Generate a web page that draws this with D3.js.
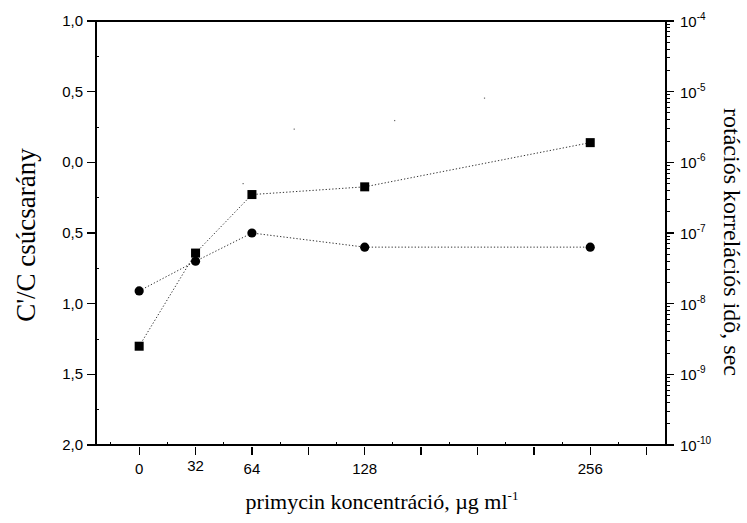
<!DOCTYPE html>
<html>
<head>
<meta charset="utf-8">
<script src="https://cdn.jsdelivr.net/npm/d3@7"></script>
<style>
  body { margin: 0; background: #fff; }
  .tick-label { font-family: 'Liberation Sans', Arial, sans-serif; font-size: 15px; fill: #000; }
  .title { font-family: 'Liberation Serif', 'Times New Roman', serif; font-size: 22px; fill: #000; }
</style>
</head>
<body>
<svg id="chart" width="747" height="523"></svg>
<script>
// concentration values (µg/ml)
const conc = [0, 32, 64, 128, 256];
// C'/C peak ratio (left axis)
const peakRatio = [-0.91, -0.70, -0.50, -0.60, -0.60];
// rotational correlation time, sec (right axis)
const corrTime = [2.5e-9, 5.2e-8, 3.5e-7, 4.5e-7, 1.9e-6];
// stray specks in the scanned figure
const speckConc = [59, 88, 145, 196];
const speckTime = [5.0e-7, 2.95e-6, 3.9e-6, 8.1e-6];

const xTickValues = [0, 32, 64, 96, 128, 160, 192, 224, 256, 288];
const xTickLabels = ['0', '32', '64', '', '128', '', '', '', '256', ''];
const leftTicks = [1, 0.5, 0, -0.5, -1, -1.5, -2];
const rightExps = [-4, -5, -6, -7, -8, -9, -10];

const svg = d3.select('svg#chart');
const pLeft = 96, pRight = 666, pTop = 21, pBottom = 445;

const x = d3.scaleLinear().domain([-24.5, 299]).range([pLeft, pRight]);
const yL = d3.scaleLinear().domain([-2, 1]).range([pBottom, pTop]);
const yR = d3.scaleLog().domain([1e-10, 1e-4]).range([pBottom, pTop]);

const g = svg.append('g').attr('stroke', '#000').attr('shape-rendering', 'crispEdges');

// frame lines
g.append('line').attr('x1', pLeft).attr('x2', pRight).attr('y1', pTop).attr('y2', pTop).attr('stroke-width', 1.3);
g.append('line').attr('x1', pLeft).attr('x2', pRight).attr('y1', pBottom).attr('y2', pBottom).attr('stroke-width', 1.5);
g.append('line').attr('x1', pLeft).attr('x2', pLeft).attr('y1', pTop).attr('y2', pBottom).attr('stroke-width', 1.5);
g.append('line').attr('x1', pRight).attr('x2', pRight).attr('y1', pTop).attr('y2', pBottom).attr('stroke-width', 1.5);

// bottom axis: major ticks out, minor ticks in
g.selectAll('.xmaj').data(xTickValues).enter().append('line')
  .attr('x1', d => x(d)).attr('x2', d => x(d))
  .attr('y1', pBottom + 2).attr('y2', pBottom + 10).attr('stroke-width', 1.3);
g.selectAll('.xmin').data(xTickValues.map(d => d - 16).filter(d => d > -24.5)).enter().append('line')
  .attr('x1', d => x(d)).attr('x2', d => x(d))
  .attr('y1', pBottom).attr('y2', pBottom - 3).attr('stroke-width', 1);
svg.selectAll('.xlab').data(xTickValues).enter().append('text')
  .attr('class', 'tick-label')
  .attr('x', d => x(d)).attr('y', (d, i) => i === 1 ? 471 : 474)
  .attr('text-anchor', 'middle')
  .text((d, i) => xTickLabels[i]);

// left axis: major ticks out, minor ticks in
g.selectAll('.ylmaj').data(leftTicks).enter().append('line')
  .attr('x1', pLeft - 9).attr('x2', pLeft)
  .attr('y1', d => yL(d)).attr('y2', d => yL(d)).attr('stroke-width', 1.3);
g.selectAll('.ylmin').data(leftTicks.slice(1).map(d => d + 0.25)).enter().append('line')
  .attr('x1', pLeft).attr('x2', pLeft + 3)
  .attr('y1', d => yL(d)).attr('y2', d => yL(d)).attr('stroke-width', 1);
svg.selectAll('.yllab').data(leftTicks).enter().append('text')
  .attr('class', 'tick-label')
  .attr('x', pLeft - 13).attr('y', d => yL(d) + 5)
  .attr('text-anchor', 'end')
  .text(d => d3.format('.1f')(Math.abs(d)).replace('.', ','));

// right axis (log): ticks point outward
const minorR = [];
rightExps.slice(1).forEach(e => {
  for (let k = 2; k <= 9; k++) minorR.push(k * Math.pow(10, e));
});
g.selectAll('.yrmaj').data(rightExps).enter().append('line')
  .attr('x1', pRight).attr('x2', pRight + 8)
  .attr('y1', d => yR(Math.pow(10, d))).attr('y2', d => yR(Math.pow(10, d))).attr('stroke-width', 1.3);
g.selectAll('.yrmin').data(minorR).enter().append('line')
  .attr('x1', pRight).attr('x2', pRight + 4)
  .attr('y1', d => yR(d)).attr('y2', d => yR(d)).attr('stroke-width', 1);
const rl = svg.selectAll('.yrlab').data(rightExps).enter().append('text')
  .attr('class', 'tick-label')
  .attr('x', pRight + 14).attr('y', d => yR(Math.pow(10, d)) + 6);
rl.append('tspan').text('10');
rl.append('tspan').attr('dy', -7).style('font-size', '10px').text(d => '-' + Math.abs(d));

// dotted connecting lines
const lineL = d3.line().x((d, i) => x(conc[i])).y(d => yL(d));
const lineR = d3.line().x((d, i) => x(conc[i])).y(d => yR(d));
svg.append('path').attr('d', lineL(peakRatio))
  .attr('fill', 'none').attr('stroke', '#333').attr('stroke-width', 1).attr('stroke-dasharray', '1.3,2');
svg.append('path').attr('d', lineR(corrTime))
  .attr('fill', 'none').attr('stroke', '#333').attr('stroke-width', 1).attr('stroke-dasharray', '1.3,2');

// markers
svg.selectAll('.circ').data(peakRatio).enter().append('circle')
  .attr('cx', (d, i) => x(conc[i])).attr('cy', d => yL(d)).attr('r', 4.6).attr('fill', '#000');
svg.selectAll('.sq').data(corrTime).enter().append('rect')
  .attr('x', (d, i) => x(conc[i]) - 4.5).attr('y', d => yR(d) - 4.5)
  .attr('width', 9).attr('height', 9).attr('fill', '#000');

// specks
svg.selectAll('.speck').data(speckTime).enter().append('rect')
  .attr('x', (d, i) => x(speckConc[i]) - 0.6).attr('y', d => yR(d) - 0.6)
  .attr('width', 1.2).attr('height', 1.2).attr('fill', '#666');

// axis titles
svg.append('text').attr('class', 'title')
  .attr('transform', 'translate(35,235) rotate(-90)')
  .style('font-size', '27px')
  .attr('text-anchor', 'middle').text("C'/C csúcsarány");
svg.append('text').attr('class', 'title')
  .attr('transform', 'translate(724,242) rotate(90)')
  .style('font-size', '24px')
  .attr('text-anchor', 'middle').text('rotációs korrelációs idõ, sec');
const xt = svg.append('text').attr('class', 'title')
  .attr('x', 382).attr('y', 509).attr('text-anchor', 'middle');
xt.append('tspan').text('primycin koncentráció, µg ml');
xt.append('tspan').attr('dy', -9).style('font-size', '13px').text('-1');
</script>
</body>
</html>
